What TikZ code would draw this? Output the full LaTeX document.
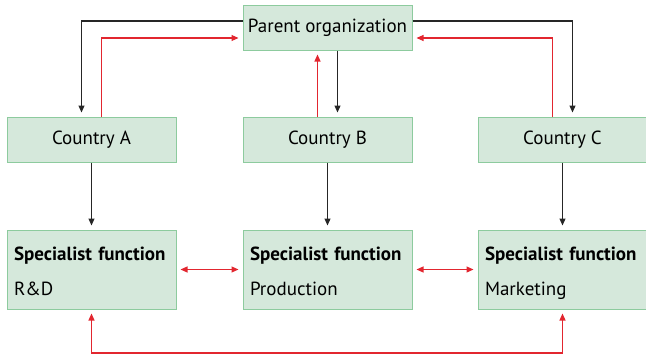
\documentclass[tikz,border=0pt]{standalone}
\usepackage{fontspec}
\setmainfont{PT Sans}
\usepackage{xcolor}
\usetikzlibrary{arrows.meta, positioning}

\definecolor{boxfill}{HTML}{D5E8DB}
\definecolor{boxline}{HTML}{8DCB9E}
\definecolor{linkred}{HTML}{E2262F}

\newcommand{\toprule}{\rule{0pt}{24pt}}

\begin{document}
\begin{tikzpicture}[
  x=1pt, y=1pt,
  font=\fontsize{19}{22}\selectfont,
  unitbox/.style={draw=boxline, fill=boxfill, line width=1pt,
                  minimum width=169pt, minimum height=45pt, align=center},
  specbox/.style={draw=boxline, fill=boxfill, line width=1pt,
                  minimum height=79pt, text width=155pt, inner xsep=7pt, align=left},
  down/.style={-{Triangle[length=7pt,width=6pt]}, line width=1.1pt, black!85, shorten >=4pt},
  up/.style={-{Triangle[length=7pt,width=6pt]}, line width=1.1pt, linkred, shorten >=4pt},
  both/.style={{Triangle[length=7pt,width=6pt]}-{Triangle[length=7pt,width=6pt]},
               line width=1.1pt, linkred, shorten >=4pt, shorten <=4pt},
]
\useasboundingbox (0,0) rectangle (646,-356);

%% ── Parent (top) ──────────────────────────────────────────────────────────
\node[unitbox] (parent) at (327.5, -27.5) {Parent organization};

%% ── Countries ─────────────────────────────────────────────────────────────
\node[unitbox] (ca) at (91.5,  -139.5) {Country A};
\node[unitbox] (cb) at (327.5, -139.5) {Country B};
\node[unitbox] (cc) at (562.5, -139.5) {Country C};

%% ── Specialist functions ──────────────────────────────────────────────────
\node[specbox] (sa) at (91.5,  -269.5) {\toprule\textbf{Specialist function}\\[13pt]\strut R\&D};
\node[specbox] (sb) at (327.5, -269.5) {\toprule\textbf{Specialist function}\\[13pt]\strut Production};
\node[specbox] (sc) at (562.5, -269.5) {\toprule\textbf{Specialist function}\\[13pt]\strut Marketing};

\coordinate (low) at (327.5, -353);

%% ── Parent -> countries (black), countries -> parent (red) ────────────────
\draw[down] ([yshift=6.5pt]parent.west) -| ([xshift=-10pt]ca.north);
\draw[up]   ([xshift=10pt]ca.north) |- ([yshift=-10.5pt]parent.west);
\draw[down] ([xshift=10pt]parent.south) -- ([xshift=10pt]cb.north);
\draw[up]   ([xshift=-10pt]cb.north) -- ([xshift=-10pt]parent.south);
\draw[down] ([yshift=6.5pt]parent.east) -| ([xshift=10pt]cc.north);
\draw[up]   ([xshift=-10pt]cc.north) |- ([yshift=-10.5pt]parent.east);

%% ── Countries -> functions ────────────────────────────────────────────────
\draw[down] (ca) -- (sa);
\draw[down] (cb) -- (sb);
\draw[down] (cc) -- (sc);

%% ── Links between functions ───────────────────────────────────────────────
\draw[both] (sa) -- (sb);
\draw[both] (sb) -- (sc);
\draw[both] (sa.south) |- (low) -| (sc.south);

\end{tikzpicture}
\end{document}
